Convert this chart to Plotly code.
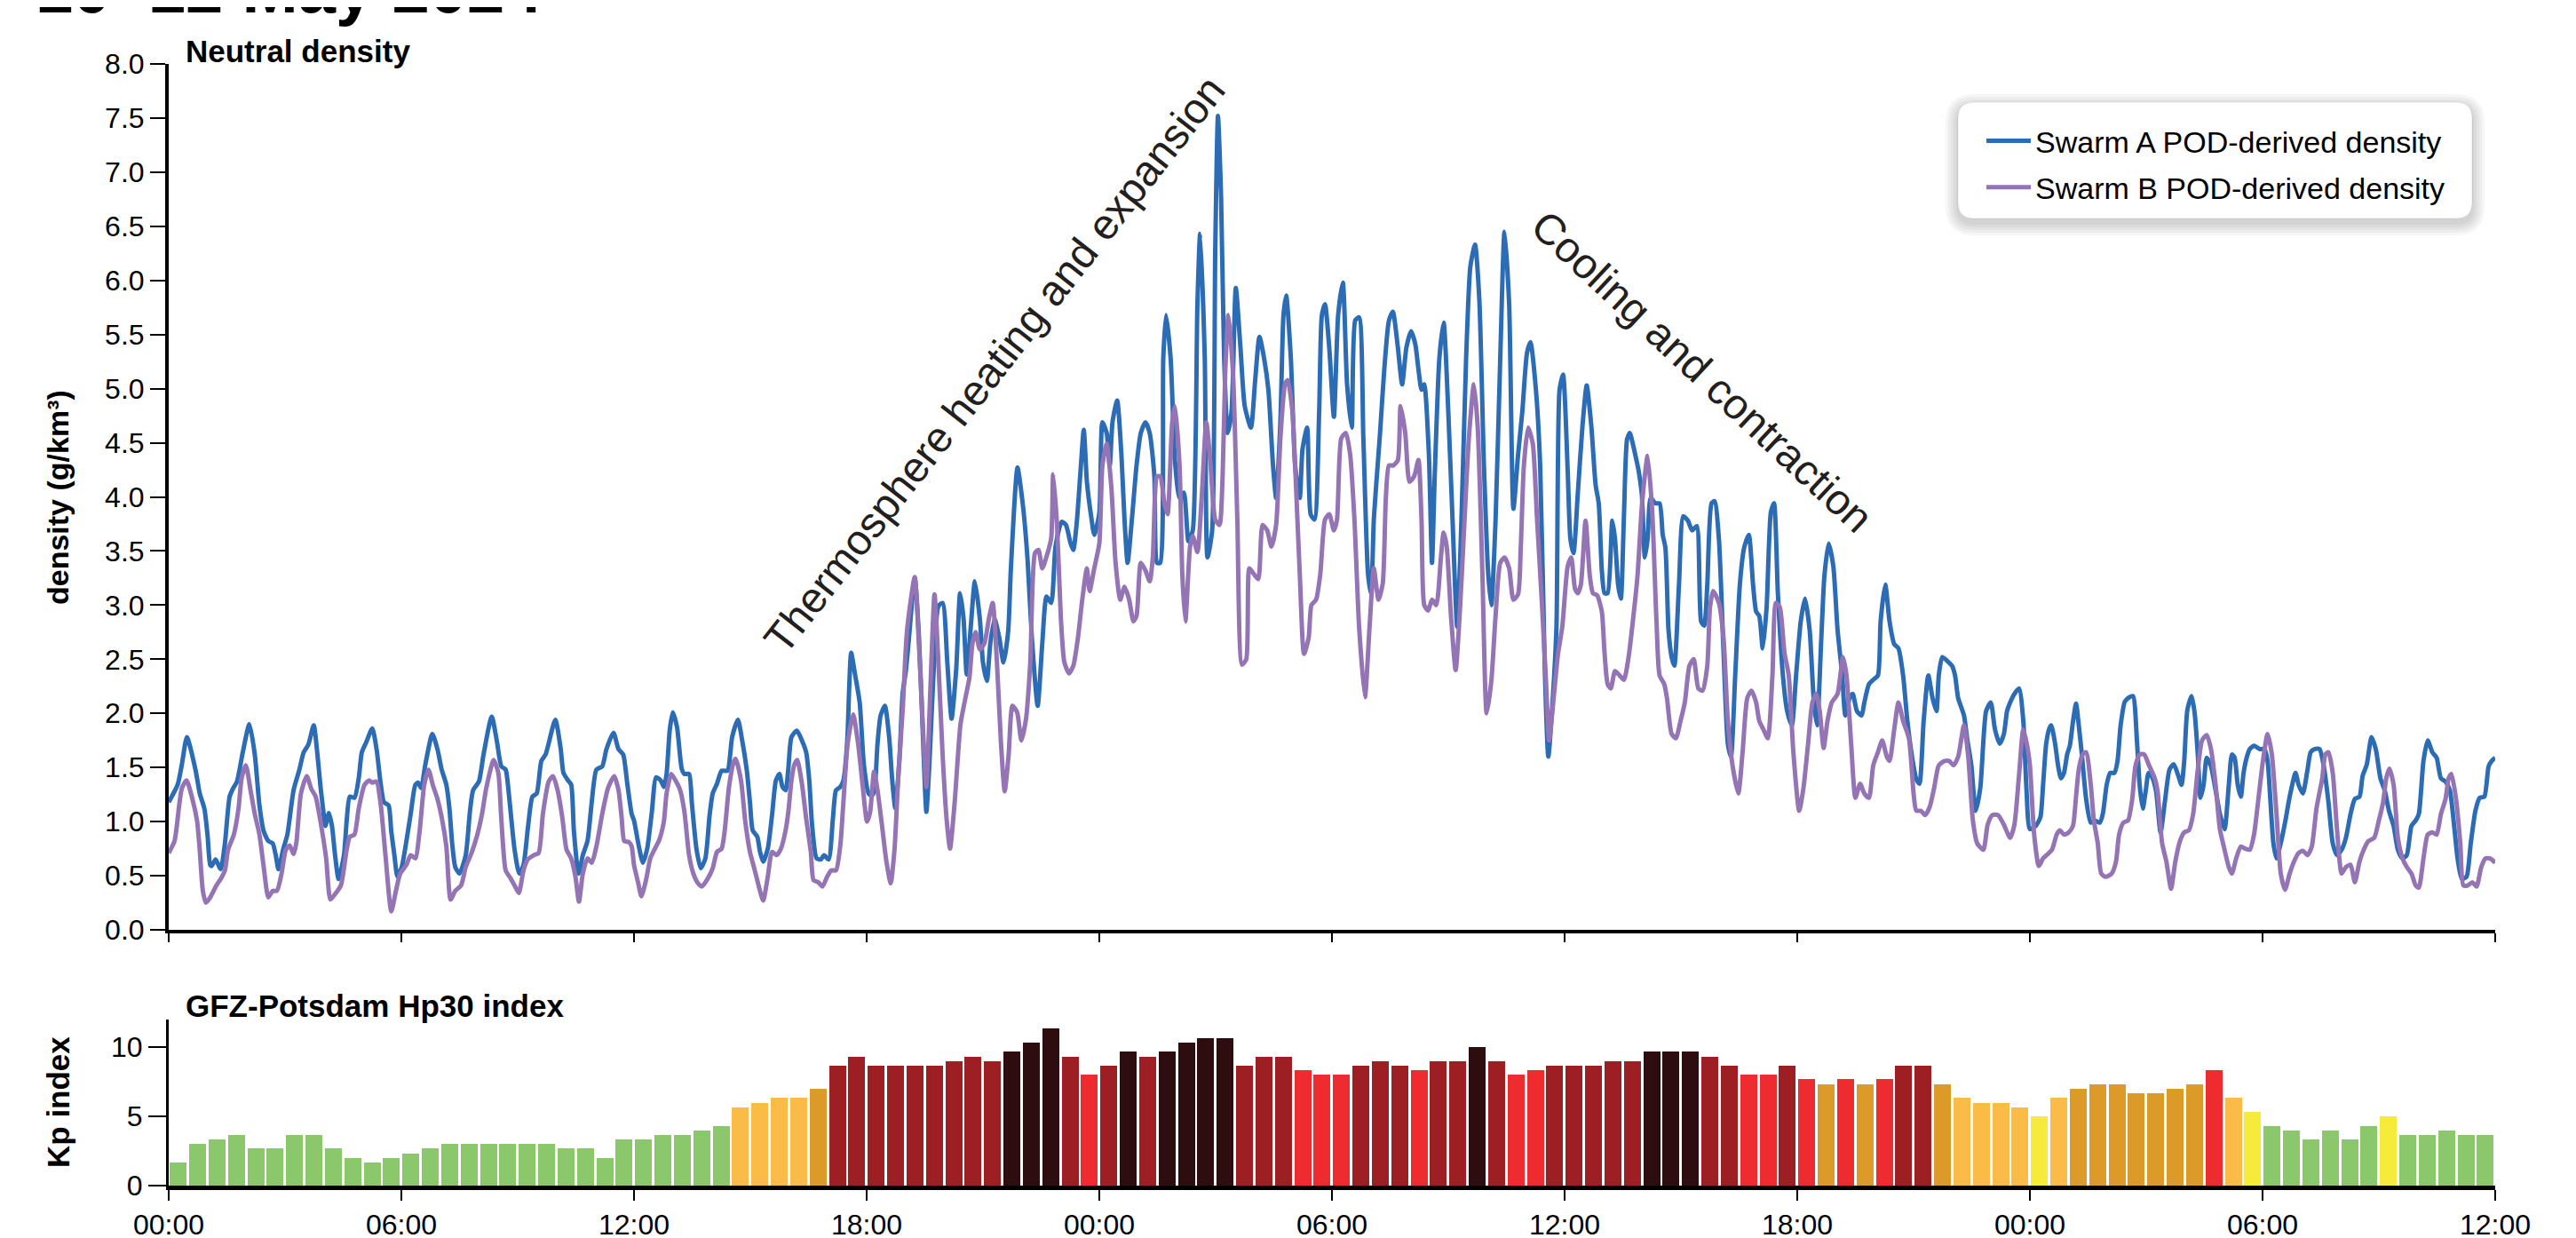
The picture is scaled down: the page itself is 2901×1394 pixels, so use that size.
import pandas as pd
import plotly.graph_objects as go

# The page places the figure 8 px from the top-left corner of the window (body margin),
# so the figure is 8 px smaller than the 2901x1394 window and page positions are shifted.
PAGE_W, PAGE_H = 2901, 1394
OFF = 8
WF, HF = PAGE_W - OFF, PAGE_H - OFF
BASE = pd.Timestamp("2024-05-10 00:00")
X_RANGE = ["2024-05-10 00:00", "2024-05-12 12:00"]

# ---- Swarm A POD-derived density: (hours since 2024-05-10 00:00 UTC, g/km^3)
swarm_a = [
    (0.00, 1.18), (0.23, 1.34), (0.34, 1.53), (0.47, 1.78), (0.69, 1.48), (0.80, 1.26), (0.92, 1.12),
    (1.00, 0.88), (1.07, 0.60), (1.11, 0.59), (1.21, 0.65), (1.34, 0.56), (1.45, 0.80), (1.57, 1.23),
    (1.65, 1.30), (1.76, 1.37), (1.91, 1.64), (2.08, 1.90), (2.22, 1.62), (2.34, 1.15), (2.45, 0.91),
    (2.57, 0.82), (2.68, 0.80), (2.76, 0.69), (2.83, 0.56), (2.95, 0.74), (3.06, 0.88), (3.22, 1.29),
    (3.37, 1.48), (3.48, 1.64), (3.60, 1.71), (3.74, 1.89), (3.83, 1.64), (3.91, 1.34), (3.98, 1.12),
    (4.04, 0.96), (4.13, 1.08), (4.21, 0.96), (4.29, 0.69), (4.38, 0.47), (4.52, 0.69), (4.59, 1.01),
    (4.67, 1.23), (4.79, 1.22), (4.90, 1.40), (4.98, 1.64), (5.09, 1.73), (5.25, 1.86), (5.36, 1.67),
    (5.47, 1.34), (5.55, 1.18), (5.67, 1.15), (5.74, 0.91), (5.82, 0.69), (5.90, 0.49), (6.01, 0.58),
    (6.13, 0.82), (6.24, 1.07), (6.36, 1.34), (6.43, 1.36), (6.51, 1.31), (6.62, 1.53), (6.80, 1.81),
    (6.93, 1.67), (7.04, 1.48), (7.16, 1.34), (7.24, 1.12), (7.31, 0.80), (7.39, 0.58), (7.50, 0.52),
    (7.66, 0.69), (7.77, 1.10), (7.85, 1.29), (8.00, 1.37), (8.12, 1.62), (8.33, 1.97), (8.46, 1.75),
    (8.58, 1.51), (8.69, 1.48), (8.73, 1.40), (8.81, 1.12), (8.92, 0.74), (9.04, 0.52), (9.15, 0.60),
    (9.26, 0.93), (9.38, 1.23), (9.49, 1.26), (9.61, 1.56), (9.72, 1.62), (9.97, 1.94), (10.11, 1.67),
    (10.18, 1.45), (10.30, 1.38), (10.38, 1.34), (10.45, 0.91), (10.57, 0.52), (10.68, 0.69), (10.80, 0.82),
    (10.91, 1.18), (11.03, 1.48), (11.18, 1.51), (11.29, 1.67), (11.47, 1.82), (11.60, 1.67), (11.72, 1.62),
    (11.83, 1.34), (11.94, 1.07), (12.00, 1.01),
    (12.11, 0.80), (12.23, 0.62), (12.34, 0.75), (12.46, 1.09), (12.57, 1.41), (12.69, 1.38), (12.77, 1.32),
    (12.84, 1.44), (12.92, 1.84), (13.00, 2.01), (13.11, 1.87), (13.23, 1.49), (13.30, 1.44), (13.42, 1.44),
    (13.49, 1.18), (13.61, 0.75), (13.72, 0.57), (13.84, 0.66), (13.95, 1.06), (14.03, 1.26), (14.14, 1.35),
    (14.26, 1.47), (14.41, 1.47), (14.53, 1.78), (14.68, 1.94), (14.79, 1.75), (14.91, 1.47), (14.99, 1.18),
    (15.06, 0.92), (15.18, 0.86), (15.25, 0.72), (15.33, 0.63), (15.45, 0.75), (15.56, 1.06), (15.66, 1.38),
    (15.75, 1.44), (15.83, 1.32), (15.91, 1.29), (15.98, 1.49), (16.06, 1.78), (16.20, 1.84), (16.33, 1.75),
    (16.44, 1.64), (16.52, 1.38), (16.59, 0.98), (16.71, 0.66), (16.82, 0.65), (16.90, 0.69), (17.02, 0.65),
    (17.13, 1.03), (17.21, 1.29), (17.32, 1.32), (17.40, 1.38), (17.50, 1.75), (17.55, 2.24), (17.60, 2.56),
    (17.70, 2.36), (17.82, 2.10), (17.93, 1.52), (18.05, 1.26), (18.13, 1.24), (18.20, 1.29), (18.28, 1.72),
    (18.36, 1.98), (18.47, 2.07), (18.58, 1.78), (18.66, 1.38), (18.74, 1.12), (18.85, 1.61), (18.93, 2.19),
    (19.01, 2.39), (19.08, 2.65), (19.24, 3.25), (19.35, 2.70), (19.47, 1.61), (19.54, 1.09), (19.62, 1.55),
    (19.73, 2.41), (19.85, 2.99), (19.96, 3.02), (20.08, 2.47), (20.19, 1.95), (20.31, 2.41), (20.41, 3.11),
    (20.50, 2.87), (20.58, 2.36), (20.69, 2.82), (20.79, 3.22), (20.92, 2.87), (21.00, 2.47), (21.10, 2.30),
    (21.19, 2.65), (21.30, 2.87), (21.42, 2.70), (21.53, 2.47), (21.65, 2.76), (21.72, 3.34), (21.89, 4.27),
    (22.03, 3.92), (22.15, 3.42), (22.26, 2.70), (22.41, 2.07), (22.53, 2.65), (22.64, 3.08), (22.76, 3.02),
    (22.87, 3.54), (23.03, 3.77), (23.14, 3.74), (23.26, 3.57), (23.33, 3.51), (23.42, 3.77), (23.52, 4.26),
    (23.60, 4.62), (23.68, 4.14), (23.79, 3.82), (23.87, 3.65), (24.00, 3.85),
    (24.08, 4.69), (24.19, 4.59), (24.27, 4.29), (24.34, 4.69), (24.46, 4.89), (24.57, 4.39), (24.65, 3.79),
    (24.73, 3.39), (24.84, 3.79), (24.96, 4.29), (25.07, 4.59), (25.19, 4.69), (25.30, 4.59), (25.42, 4.19),
    (25.49, 3.39), (25.57, 3.39), (25.65, 5.28), (25.72, 5.68), (25.84, 5.28), (25.95, 4.34), (26.07, 3.99),
    (26.18, 4.04), (26.30, 3.59), (26.41, 3.69), (26.53, 5.78), (26.60, 6.43), (26.72, 5.28), (26.79, 3.44),
    (26.91, 3.69), (26.99, 6.28), (27.06, 7.52), (27.14, 6.78), (27.22, 5.28), (27.31, 4.59), (27.41, 4.79),
    (27.52, 5.93), (27.64, 5.38), (27.75, 4.84), (27.91, 4.64), (28.02, 5.08), (28.13, 5.48), (28.25, 5.28),
    (28.36, 4.99), (28.48, 4.29), (28.56, 3.99), (28.67, 4.69), (28.75, 5.68), (28.82, 5.86), (28.94, 5.28),
    (29.05, 4.29), (29.17, 3.99), (29.24, 4.44), (29.36, 4.64), (29.45, 3.84), (29.55, 3.79), (29.67, 4.79),
    (29.74, 5.68), (29.82, 5.78), (29.93, 5.38), (30.05, 4.74), (30.16, 5.68), (30.28, 5.98), (30.39, 5.04),
    (30.51, 4.64), (30.60, 5.63), (30.70, 5.66), (30.81, 4.54), (30.93, 3.29), (31.01, 3.10), (31.08, 3.79),
    (31.24, 4.59), (31.35, 5.18), (31.47, 5.63), (31.57, 5.71), (31.70, 5.38), (31.81, 5.04), (31.92, 5.38),
    (32.04, 5.53), (32.15, 5.41), (32.23, 5.18), (32.31, 4.99), (32.38, 5.04), (32.50, 4.39), (32.58, 3.39),
    (32.65, 4.19), (32.77, 5.28), (32.88, 5.61), (33.00, 4.79), (33.11, 3.79), (33.23, 2.80), (33.34, 3.79),
    (33.46, 5.28), (33.57, 6.13), (33.69, 6.33), (33.80, 5.83), (33.92, 4.29), (34.03, 3.29), (34.11, 3.00),
    (34.22, 3.79), (34.34, 5.28), (34.45, 6.45), (34.57, 5.78), (34.68, 3.89), (34.80, 4.39), (34.91, 4.79),
    (35.03, 5.33), (35.12, 5.43), (35.26, 4.99), (35.37, 4.29), (35.49, 2.40), (35.58, 1.60), (35.68, 2.05),
    (35.79, 2.80), (35.87, 4.99), (35.96, 5.13),
    (36.08, 4.24), (36.15, 3.61), (36.23, 3.48), (36.34, 4.03), (36.46, 4.65), (36.57, 5.03), (36.69, 4.65),
    (36.80, 4.11), (36.88, 3.94), (36.96, 3.32), (37.03, 3.11), (37.11, 3.11), (37.23, 3.78), (37.30, 3.61),
    (37.38, 3.19), (37.45, 3.06), (37.53, 3.82), (37.61, 4.53), (37.68, 4.59), (37.76, 4.49), (37.84, 4.36),
    (37.91, 4.24), (37.99, 4.03), (38.07, 3.44), (38.14, 3.61), (38.22, 3.99), (38.34, 3.94), (38.45, 3.94),
    (38.53, 3.65), (38.60, 3.53), (38.68, 2.77), (38.76, 2.52), (38.83, 2.44), (38.95, 3.19), (39.06, 3.82),
    (39.18, 3.78), (39.29, 3.69), (39.41, 3.73), (39.52, 2.85), (39.60, 2.81), (39.68, 3.19), (39.79, 3.94),
    (39.87, 3.96), (39.98, 3.61), (40.10, 2.56), (40.21, 1.72), (40.29, 1.60), (40.40, 2.35), (40.52, 3.19),
    (40.63, 3.53), (40.75, 3.65), (40.86, 3.19), (40.94, 2.94), (41.02, 2.90), (41.11, 2.60), (41.21, 2.98),
    (41.32, 3.86), (41.40, 3.94), (41.50, 3.11), (41.63, 2.35), (41.74, 2.02), (41.86, 1.89), (41.97, 2.35),
    (42.09, 2.85), (42.20, 3.06), (42.32, 2.77), (42.43, 2.10), (42.51, 1.89), (42.62, 2.69), (42.70, 3.27),
    (42.81, 3.57), (42.93, 3.36), (43.04, 2.77), (43.16, 2.35), (43.24, 1.98), (43.35, 2.14), (43.43, 2.18),
    (43.54, 2.02), (43.66, 1.98), (43.73, 2.10), (43.85, 2.27), (43.96, 2.31), (44.08, 2.35), (44.15, 2.85),
    (44.27, 3.19), (44.38, 2.85), (44.50, 2.64), (44.61, 2.60), (44.73, 2.35), (44.84, 1.93), (44.96, 1.60),
    (45.07, 1.39), (45.15, 1.35), (45.26, 1.93), (45.38, 2.35), (45.49, 2.14), (45.59, 2.02), (45.65, 2.35),
    (45.74, 2.52), (45.88, 2.48), (45.99, 2.44), (46.07, 2.35), (46.15, 2.14), (46.30, 1.98), (46.38, 1.77),
    (46.49, 1.52), (46.60, 1.10), (46.72, 1.31), (46.87, 2.02), (46.99, 2.10), (47.10, 1.85), (47.22, 1.72),
    (47.33, 1.81), (47.41, 2.02), (47.49, 2.10), (47.60, 2.18), (47.72, 2.23), (47.83, 1.93), (47.91, 1.31),
    (48.00, 0.93),
    (48.15, 0.96), (48.27, 1.04), (48.34, 1.34), (48.42, 1.72), (48.50, 1.86), (48.55, 1.89), (48.65, 1.72),
    (48.73, 1.51), (48.80, 1.40), (48.88, 1.45), (48.96, 1.62), (49.03, 1.70), (49.11, 1.92), (49.19, 2.09),
    (49.26, 1.89), (49.34, 1.62), (49.45, 1.21), (49.57, 0.99), (49.68, 1.01), (49.80, 0.99), (49.88, 1.07),
    (49.98, 1.34), (50.07, 1.45), (50.18, 1.45), (50.26, 1.56), (50.34, 1.89), (50.45, 2.11), (50.57, 2.15),
    (50.66, 2.16), (50.76, 1.75), (50.83, 1.34), (50.91, 1.12), (50.99, 1.29), (51.06, 1.45), (51.14, 1.42),
    (51.25, 1.29), (51.37, 0.90), (51.48, 1.18), (51.60, 1.48), (51.71, 1.53), (51.83, 1.42), (51.91, 1.34),
    (51.98, 1.56), (52.06, 2.03), (52.17, 2.16), (52.25, 2.00), (52.33, 1.62), (52.40, 1.22), (52.48, 1.34),
    (52.56, 1.59), (52.67, 1.51), (52.79, 1.29), (52.90, 1.07), (53.02, 0.93), (53.13, 1.34), (53.21, 1.62),
    (53.28, 1.59), (53.36, 1.34), (53.44, 1.23), (53.51, 1.45), (53.59, 1.59), (53.67, 1.67), (53.78, 1.70),
    (53.93, 1.67), (54.05, 1.67), (54.13, 1.56), (54.20, 1.21), (54.28, 0.80), (54.36, 0.66), (54.47, 0.80),
    (54.58, 0.99), (54.70, 1.23), (54.85, 1.45), (54.93, 1.34), (55.04, 1.26), (55.16, 1.48), (55.24, 1.64),
    (55.35, 1.67), (55.47, 1.67), (55.58, 1.51), (55.70, 1.18), (55.81, 0.80), (55.92, 0.69), (56.04, 0.74),
    (56.15, 0.85), (56.27, 1.07), (56.38, 1.21), (56.50, 1.23), (56.58, 1.42), (56.69, 1.53), (56.81, 1.78),
    (56.92, 1.67), (57.04, 1.40), (57.15, 1.29), (57.26, 1.10), (57.38, 0.96), (57.49, 0.74), (57.61, 0.66),
    (57.72, 0.69), (57.84, 0.96), (57.95, 1.01), (58.03, 1.07), (58.15, 1.56), (58.26, 1.75), (58.38, 1.64),
    (58.49, 1.59), (58.60, 1.40), (58.72, 1.37), (58.83, 1.29), (58.95, 0.93), (59.03, 0.66), (59.14, 0.47),
    (59.26, 0.49), (59.37, 0.80), (59.49, 1.10), (59.60, 1.22), (59.72, 1.23), (59.83, 1.51), (59.91, 1.56),
    (60.00, 1.59),
]

# ---- Swarm B POD-derived density: (hours since 2024-05-10 00:00 UTC, g/km^3)
swarm_b = [
    (0.00, 0.71), (0.15, 0.82), (0.27, 1.15), (0.34, 1.31), (0.46, 1.38), (0.61, 1.21), (0.73, 1.01),
    (0.80, 0.74), (0.88, 0.36), (0.96, 0.25), (1.07, 0.30), (1.23, 0.41), (1.34, 0.47), (1.45, 0.55),
    (1.53, 0.74), (1.68, 0.88), (1.80, 1.12), (1.88, 1.40), (1.99, 1.52), (2.11, 1.29), (2.22, 1.07),
    (2.34, 0.88), (2.45, 0.58), (2.57, 0.30), (2.68, 0.36), (2.79, 0.36), (2.91, 0.52), (3.02, 0.74),
    (3.12, 0.78), (3.22, 0.70), (3.29, 0.80), (3.41, 1.26), (3.56, 1.42), (3.68, 1.30), (3.79, 1.23),
    (3.91, 1.01), (4.06, 0.66), (4.17, 0.28), (4.29, 0.33), (4.44, 0.41), (4.59, 0.74), (4.67, 0.86),
    (4.79, 0.88), (4.90, 1.12), (5.05, 1.34), (5.17, 1.38), (5.25, 1.36), (5.36, 1.37), (5.47, 1.15),
    (5.59, 0.69), (5.74, 0.17), (5.86, 0.36), (5.97, 0.52), (6.13, 0.60), (6.24, 0.69), (6.36, 0.66),
    (6.47, 0.91), (6.59, 1.34), (6.70, 1.48), (6.81, 1.34), (6.93, 1.21), (7.04, 1.04), (7.16, 0.77),
    (7.27, 0.28), (7.39, 0.36), (7.54, 0.41), (7.66, 0.58), (7.81, 0.71), (7.96, 0.88), (8.08, 1.07),
    (8.19, 1.31), (8.38, 1.57), (8.50, 1.45), (8.58, 1.01), (8.69, 0.55), (8.81, 0.48), (8.92, 0.41),
    (9.03, 0.34), (9.15, 0.55), (9.26, 0.65), (9.42, 0.69), (9.54, 0.71), (9.65, 1.07), (9.80, 1.37),
    (9.91, 1.42), (10.03, 1.29), (10.15, 1.04), (10.26, 0.74), (10.38, 0.66), (10.49, 0.49), (10.58, 0.26),
    (10.68, 0.52), (10.80, 0.66), (10.91, 0.62), (11.03, 0.77), (11.18, 1.07), (11.33, 1.31), (11.49, 1.42),
    (11.60, 1.29), (11.68, 1.04), (11.75, 0.82), (11.87, 0.81), (11.94, 0.77), (12.00, 0.60),
    (12.11, 0.43), (12.19, 0.31), (12.31, 0.46), (12.42, 0.66), (12.54, 0.75), (12.65, 0.83), (12.77, 1.00),
    (12.84, 1.26), (12.96, 1.44), (13.07, 1.38), (13.19, 1.29), (13.30, 1.09), (13.42, 0.69), (13.53, 0.52),
    (13.65, 0.43), (13.75, 0.40), (13.88, 0.46), (14.03, 0.57), (14.14, 0.72), (14.26, 0.75), (14.34, 0.92),
    (14.45, 1.32), (14.57, 1.55), (14.62, 1.58), (14.76, 1.38), (14.87, 1.00), (14.99, 0.72), (15.10, 0.57),
    (15.22, 0.40), (15.33, 0.27), (15.45, 0.49), (15.56, 0.72), (15.68, 0.69), (15.79, 0.75), (15.91, 0.92),
    (15.98, 1.09), (16.06, 1.38), (16.13, 1.52), (16.21, 1.57), (16.33, 1.35), (16.44, 1.03), (16.56, 0.72),
    (16.63, 0.46), (16.75, 0.44), (16.86, 0.40), (16.98, 0.49), (17.09, 0.55), (17.21, 0.55), (17.32, 0.78),
    (17.40, 1.18), (17.51, 1.72), (17.65, 1.99), (17.78, 1.72), (17.90, 1.32), (18.01, 1.00), (18.09, 1.09),
    (18.19, 1.46), (18.28, 1.29), (18.39, 0.98), (18.51, 0.63), (18.62, 0.43), (18.72, 0.75), (18.81, 1.38),
    (18.93, 2.04), (19.04, 2.76), (19.24, 3.26), (19.35, 2.62), (19.44, 1.95), (19.54, 1.32), (19.64, 2.19),
    (19.75, 3.10), (19.85, 2.47), (19.96, 1.61), (20.06, 1.03), (20.15, 0.75), (20.27, 1.18), (20.42, 1.90),
    (20.54, 2.13), (20.65, 2.33), (20.73, 2.65), (20.81, 2.75), (20.92, 2.59), (21.04, 2.65), (21.15, 2.87),
    (21.25, 3.02), (21.36, 2.47), (21.46, 1.75), (21.56, 1.28), (21.66, 1.61), (21.76, 2.07), (21.88, 2.01),
    (21.99, 1.75), (22.11, 1.95), (22.22, 2.47), (22.34, 3.48), (22.43, 3.51), (22.53, 3.34), (22.64, 3.45),
    (22.76, 3.62), (22.81, 4.21), (22.91, 3.74), (23.01, 2.87), (23.10, 2.47), (23.22, 2.37), (23.33, 2.44),
    (23.45, 2.70), (23.56, 3.05), (23.68, 3.34), (23.75, 3.13), (23.87, 3.34), (24.00, 3.57),
    (24.08, 4.29), (24.19, 4.49), (24.31, 4.09), (24.42, 3.39), (24.54, 3.05), (24.65, 3.17), (24.77, 3.05),
    (24.88, 2.85), (24.96, 2.90), (25.07, 3.39), (25.19, 3.32), (25.30, 3.22), (25.38, 3.44), (25.49, 4.19),
    (25.57, 4.19), (25.68, 3.94), (25.76, 3.84), (25.88, 4.69), (25.95, 4.84), (26.07, 4.29), (26.14, 3.29),
    (26.22, 2.85), (26.34, 3.54), (26.41, 3.64), (26.53, 3.49), (26.64, 3.99), (26.76, 4.69), (26.87, 4.29),
    (26.99, 3.79), (27.10, 3.74), (27.18, 4.19), (27.25, 5.18), (27.33, 5.68), (27.45, 5.13), (27.56, 3.79),
    (27.68, 2.45), (27.79, 2.50), (27.87, 3.34), (27.98, 3.29), (28.10, 3.24), (28.21, 3.74), (28.33, 3.69),
    (28.44, 3.54), (28.56, 3.74), (28.67, 4.54), (28.79, 5.04), (28.86, 5.08), (28.98, 4.79), (29.05, 4.29),
    (29.17, 3.29), (29.28, 2.55), (29.40, 2.70), (29.47, 3.00), (29.59, 3.05), (29.70, 3.29), (29.82, 3.79),
    (29.93, 3.84), (30.05, 3.69), (30.13, 3.79), (30.24, 4.54), (30.36, 4.59), (30.47, 4.39), (30.58, 3.79),
    (30.70, 2.80), (30.85, 2.15), (30.97, 2.80), (31.08, 3.34), (31.20, 3.05), (31.31, 3.20), (31.39, 3.99),
    (31.47, 4.29), (31.58, 4.29), (31.70, 4.34), (31.77, 4.84), (31.89, 4.59), (32.00, 4.14), (32.12, 4.19),
    (32.23, 4.34), (32.31, 3.79), (32.38, 3.00), (32.48, 2.95), (32.58, 3.05), (32.69, 3.00), (32.81, 3.44),
    (32.88, 3.67), (32.96, 3.54), (33.07, 2.90), (33.19, 2.40), (33.30, 2.95), (33.42, 3.79), (33.53, 4.54),
    (33.66, 5.04), (33.76, 4.64), (33.88, 3.29), (33.99, 2.00), (34.11, 2.30), (34.22, 2.90), (34.34, 3.39),
    (34.45, 3.44), (34.57, 3.34), (34.68, 3.05), (34.80, 3.10), (34.87, 3.54), (34.95, 4.29), (35.06, 4.64),
    (35.18, 4.49), (35.29, 3.79), (35.41, 3.05), (35.52, 2.30), (35.60, 1.75), (35.72, 2.15), (35.83, 2.55),
    (35.94, 2.80),
    (36.08, 3.36), (36.17, 3.44), (36.27, 3.15), (36.34, 3.11), (36.42, 3.19), (36.54, 3.78), (36.65, 3.27),
    (36.73, 3.11), (36.84, 3.09), (36.96, 2.94), (37.03, 2.56), (37.11, 2.27), (37.19, 2.23), (37.30, 2.39),
    (37.42, 2.35), (37.53, 2.31), (37.65, 2.52), (37.76, 2.85), (37.88, 3.27), (37.99, 3.90), (38.07, 4.20),
    (38.14, 4.38), (38.26, 3.86), (38.37, 2.85), (38.45, 2.35), (38.57, 2.27), (38.64, 2.14), (38.76, 1.81),
    (38.87, 1.77), (38.99, 1.93), (39.10, 2.10), (39.22, 2.44), (39.33, 2.50), (39.45, 2.23), (39.56, 2.21),
    (39.68, 2.44), (39.75, 2.98), (39.83, 3.13), (39.98, 3.02), (40.10, 2.69), (40.21, 1.93), (40.33, 1.52),
    (40.48, 1.26), (40.59, 1.64), (40.71, 2.14), (40.82, 2.21), (40.94, 2.10), (41.02, 1.93), (41.13, 1.85),
    (41.24, 1.77), (41.36, 2.35), (41.45, 3.02), (41.55, 2.98), (41.67, 2.56), (41.78, 2.35), (41.90, 1.64),
    (42.05, 1.10), (42.16, 1.31), (42.28, 1.72), (42.39, 2.10), (42.49, 2.18), (42.58, 2.02), (42.68, 1.68),
    (42.78, 1.93), (42.89, 2.10), (43.04, 2.18), (43.18, 2.52), (43.27, 2.35), (43.39, 1.72), (43.50, 1.22),
    (43.62, 1.35), (43.73, 1.26), (43.85, 1.22), (43.96, 1.52), (44.08, 1.64), (44.19, 1.75), (44.31, 1.60),
    (44.38, 1.56), (44.50, 1.85), (44.61, 2.10), (44.73, 1.93), (44.88, 1.77), (45.00, 1.26), (45.07, 1.10),
    (45.19, 1.10), (45.30, 1.06), (45.42, 1.14), (45.53, 1.31), (45.65, 1.52), (45.80, 1.56), (45.92, 1.56),
    (46.03, 1.52), (46.15, 1.60), (46.30, 1.89), (46.41, 1.60), (46.53, 1.01), (46.64, 0.80), (46.80, 0.74),
    (46.91, 0.97), (47.03, 1.06), (47.18, 1.06), (47.33, 0.97), (47.49, 0.85), (47.60, 0.97), (47.72, 1.43),
    (47.83, 1.85), (47.94, 1.68), (48.00, 1.52),
    (48.11, 0.88), (48.23, 0.59), (48.34, 0.66), (48.46, 0.70), (48.57, 0.74), (48.69, 0.88), (48.77, 0.92),
    (48.88, 0.88), (49.00, 0.90), (49.11, 0.96), (49.19, 1.23), (49.26, 1.48), (49.36, 1.62), (49.45, 1.64),
    (49.57, 1.34), (49.65, 1.01), (49.75, 0.80), (49.84, 0.52), (49.95, 0.49), (50.11, 0.52), (50.22, 0.63),
    (50.30, 0.88), (50.41, 0.99), (50.53, 1.01), (50.64, 1.21), (50.72, 1.51), (50.83, 1.62), (50.95, 1.62),
    (51.06, 1.53), (51.22, 1.40), (51.29, 1.29), (51.41, 0.80), (51.52, 0.63), (51.64, 0.38), (51.75, 0.63),
    (51.87, 0.82), (51.98, 0.90), (52.10, 0.92), (52.21, 1.07), (52.33, 1.48), (52.44, 1.75), (52.56, 1.80),
    (52.67, 1.67), (52.79, 1.34), (52.90, 0.93), (53.02, 0.74), (53.13, 0.58), (53.21, 0.52), (53.32, 0.66),
    (53.44, 0.77), (53.55, 0.75), (53.67, 0.74), (53.78, 0.88), (53.90, 1.23), (54.01, 1.56), (54.13, 1.81),
    (54.24, 1.62), (54.36, 1.07), (54.47, 0.52), (54.58, 0.37), (54.70, 0.52), (54.81, 0.63), (54.93, 0.71),
    (55.04, 0.73), (55.16, 0.69), (55.27, 0.77), (55.39, 1.12), (55.54, 1.40), (55.62, 1.62), (55.70, 1.64),
    (55.81, 1.45), (55.92, 0.93), (56.04, 0.52), (56.15, 0.58), (56.27, 0.60), (56.38, 0.44), (56.50, 0.63),
    (56.61, 0.74), (56.73, 0.82), (56.88, 0.85), (57.00, 1.01), (57.11, 1.18), (57.19, 1.40), (57.27, 1.49),
    (57.38, 1.34), (57.49, 0.85), (57.61, 0.66), (57.72, 0.58), (57.84, 0.52), (57.95, 0.41), (58.03, 0.39),
    (58.15, 0.66), (58.26, 0.88), (58.38, 0.90), (58.49, 0.88), (58.60, 1.07), (58.72, 1.21), (58.80, 1.40),
    (58.87, 1.44), (58.99, 1.21), (59.10, 0.80), (59.18, 0.41), (59.29, 0.41), (59.41, 0.44), (59.52, 0.40),
    (59.64, 0.58), (59.75, 0.66), (59.87, 0.66), (60.00, 0.62),
]

# ---- GFZ-Potsdam Hp30 index, one value per 30-minute interval from 2024-05-10 00:00 UTC
hp30_values = [
    1.67, 3.0, 3.33, 3.67, 2.67, 2.67, 3.67, 3.67, 2.67, 2.0, 1.67, 2.0, 2.33, 2.67, 3.0, 3.0, 3.0, 3.0,
    3.0, 3.0, 2.67, 2.67, 2.0, 3.33, 3.33, 3.67, 3.67, 4.0, 4.33, 5.67, 6.0, 6.33, 6.33, 7.0, 8.67, 9.33,
    8.67, 8.67, 8.67, 8.67, 9.0, 9.33, 9.0, 9.67, 10.33, 11.33, 9.33, 8.0, 8.67, 9.67, 9.33, 9.67, 10.33,
    10.67, 10.67, 8.67, 9.33, 9.33, 8.33, 8.0, 8.0, 8.67, 9.0, 8.67, 8.33, 9.0, 9.0, 10.0, 9.0, 8.0, 8.33,
    8.67, 8.67, 8.67, 9.0, 9.0, 9.67, 9.67, 9.67, 9.33, 8.67, 8.0, 8.0, 8.67, 7.67, 7.33, 7.67, 7.33, 7.67,
    8.67, 8.67, 7.33, 6.33, 6.0, 6.0, 5.67, 5.0, 6.33, 7.0, 7.33, 7.33, 6.67, 6.67, 7.0, 7.33, 8.33, 6.33,
    5.33, 4.33, 4.0, 3.33, 4.0, 3.33, 4.33, 5.0, 3.67, 3.67, 4.0, 3.67, 3.67, 2.33,
]

density_ticks = [i * 0.5 for i in range(17)]
kp_ticks = [0, 5, 10]
date_labels = ["2024-05-10", "2024-05-11", "2024-05-12"]

BLUE = "#2b6cb5"
PURPLE = "#9474b4"
FONT = "Liberation Sans, Arial, Helvetica, sans-serif"


def hp_color(v):
    if v >= 9.5:
        return "#2e0d10"
    if v >= 8.5:
        return "#9e1f23"
    if v >= 7.5:
        return "#ee2b2e"
    if v >= 6.5:
        return "#dc9a28"
    if v >= 5.5:
        return "#fbbb47"
    if v >= 4.5:
        return "#f6ea3a"
    return "#8bc76b"


def to_time(hours):
    return BASE + pd.to_timedelta(hours, unit="h")


def fx(px):  # page x pixel -> paper fraction
    return (px - OFF) / WF


def fy(py):  # page y pixel (from top) -> paper fraction
    return 1 - (py - OFF) / HF


a_t = to_time([p[0] for p in swarm_a])
a_v = [p[1] for p in swarm_a]
b_t = to_time([p[0] for p in swarm_b])
b_v = [p[1] for p in swarm_b]
hp_t = pd.date_range(BASE, periods=len(hp30_values), freq="30min")

fig = go.Figure()
fig.add_trace(go.Scatter(x=a_t, y=a_v, mode="lines", name="Swarm A POD-derived density",
                         line=dict(color=BLUE, width=5, shape="spline", smoothing=0.6),
                         xaxis="x", yaxis="y", legendgroup="a"))
fig.add_trace(go.Scatter(x=b_t, y=b_v, mode="lines", name="Swarm B POD-derived density",
                         line=dict(color=PURPLE, width=5, shape="spline", smoothing=0.6),
                         xaxis="x", yaxis="y", legendgroup="b"))
fig.add_trace(go.Bar(x=hp_t, y=hp30_values, marker=dict(color=[hp_color(v) for v in hp30_values], line_width=0),
                     width=0.87 * 1800000, offset=0.06 * 1800000, xaxis="x2", yaxis="y2", showlegend=False))

XD = [fx(190), fx(2810)]
TOP_D = [fy(1047), fy(72)]
BOT_D = [fy(1335), fy(1148)]

axis_common = dict(showgrid=False, zeroline=False, linecolor="black", ticks="outside", automargin=False,
                   tickcolor="black", tickwidth=2, tickfont=dict(family=FONT, size=32, color="black"))

fig.update_layout(
    width=WF, height=HF,
    margin=dict(l=0, r=0, t=0, b=0, pad=0, autoexpand=False),
    paper_bgcolor="white", plot_bgcolor="white",
    font=dict(family=FONT, color="black"),
    xaxis=dict(domain=XD, anchor="y", type="date", range=X_RANGE, dtick=6 * 3600000,
               tick0="2024-05-10", showticklabels=False, ticklen=10, showline=True, linewidth=4,
               **axis_common),
    xaxis3=dict(overlaying="x", anchor="y", type="date", range=X_RANGE, dtick=24 * 3600000,
                tick0="2024-05-10", showticklabels=False, ticks="outside", ticklen=44, tickwidth=2,
                tickcolor="black", showline=False, showgrid=False, zeroline=False, automargin=False),
    yaxis=dict(domain=TOP_D, anchor="x", range=[0, 8], tickvals=density_ticks, tickformat=".1f",
               ticklen=17, showline=True, linewidth=4, **axis_common),
    xaxis2=dict(domain=XD, anchor="y2", type="date", range=X_RANGE, dtick=6 * 3600000,
                tick0="2024-05-10", tickformat="%H:%M", ticklen=12, showline=True, linewidth=5,
                **axis_common),
    yaxis2=dict(domain=BOT_D, anchor="x2", range=[0, 12], tickvals=kp_ticks, ticklen=20,
                showline=True, linewidth=3, **axis_common),
    bargap=0,
    showlegend=True,
    legend=dict(x=fx(2232), xanchor="left", y=fy(130), yanchor="top",
                bgcolor="rgba(255,255,255,0)", borderwidth=0, tracegroupgap=5, itemwidth=50,
                font=dict(family=FONT, size=34, color="black")),
)

annotations = [
    dict(text="<b>10–12 May 2024</b>", xref="paper", yref="paper", x=fx(38), y=fy(-13),
         xanchor="left", yanchor="middle", showarrow=False, font=dict(family=FONT, size=76, color="black")),
    dict(text="<b>Neutral density</b>", xref="paper", yref="paper", x=fx(207), y=fy(57),
         xanchor="left", yanchor="middle", showarrow=False, font=dict(family=FONT, size=35, color="black")),
    dict(text="<b>GFZ-Potsdam Hp30 index</b>", xref="paper", yref="paper", x=fx(207), y=fy(1132),
         xanchor="left", yanchor="middle", showarrow=False, font=dict(family=FONT, size=35, color="black")),
    dict(text="<b>density (g/km³)</b>", xref="paper", yref="paper", x=fx(65), y=fy(560),
         xanchor="center", yanchor="middle", textangle=-90, showarrow=False,
         font=dict(family=FONT, size=34, color="black")),
    dict(text="<b>Kp index</b>", xref="paper", yref="paper", x=fx(65), y=fy(1241),
         xanchor="center", yanchor="middle", textangle=-90, showarrow=False,
         font=dict(family=FONT, size=35, color="black")),
    dict(text="Thermosphere heating and expansion", xref="x", yref="y", x=to_time(21.30), y=5.22,
         xanchor="center", yanchor="middle", textangle=-52, showarrow=False,
         font=dict(family=FONT, size=48, color="#231f20")),
    dict(text="Cooling and contraction", xref="x", yref="y", x=to_time(39.55), y=5.16,
         xanchor="center", yanchor="middle", textangle=43, showarrow=False,
         font=dict(family=FONT, size=48, color="#231f20")),
]
for d in date_labels:
    annotations.append(dict(text=d, xref="x2", yref="paper", x=d, y=fy(1389), xanchor="left",
                            yanchor="top", xshift=20, showarrow=False,
                            font=dict(family=FONT, size=32, color="black")))
fig.update_layout(annotations=annotations)


# legend box with rounded corners and a soft shadow (page pixel coordinates)
def rounded(x0, y0, x1, y1, r):
    return (f"M{fx(x0 + r)},{fy(y0)} L{fx(x1 - r)},{fy(y0)} Q{fx(x1)},{fy(y0)} {fx(x1)},{fy(y0 + r)} "
            f"L{fx(x1)},{fy(y1 - r)} Q{fx(x1)},{fy(y1)} {fx(x1 - r)},{fy(y1)} "
            f"L{fx(x0 + r)},{fy(y1)} Q{fx(x0)},{fy(y1)} {fx(x0)},{fy(y1 - r)} "
            f"L{fx(x0)},{fy(y0 + r)} Q{fx(x0)},{fy(y0)} {fx(x0 + r)},{fy(y0)} Z")


shapes = []
for d in [14, 11, 8, 5, 2]:
    shapes.append(dict(type="path", xref="paper", yref="paper", layer="above",
                       path=rounded(2205 - d, 115 - d + 5, 2784 + d, 246 + d + 5, 18 + d),
                       fillcolor="rgba(0,0,0,0.035)", line=dict(width=0)))
shapes.append(dict(type="path", xref="paper", yref="paper", layer="above",
                   path=rounded(2205, 115, 2784, 246, 18), fillcolor="white",
                   line=dict(color="rgba(0,0,0,0.08)", width=1)))
fig.update_layout(shapes=shapes)

fig.write_html("out.html")
